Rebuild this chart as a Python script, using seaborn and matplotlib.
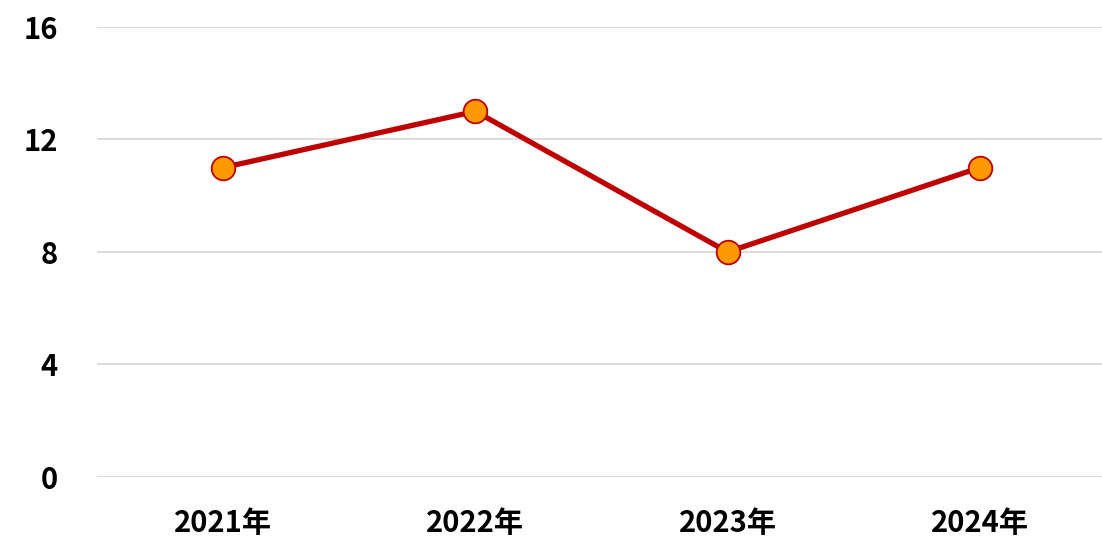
import matplotlib
matplotlib.use("Agg")
import matplotlib.pyplot as plt
import seaborn as sns
import pandas as pd

years = ["2021年", "2022年", "2023年", "2024年"]
values = [11, 13, 8, 11]
yticks = [0, 4, 8, 12, 16]

sns.set_theme(style="white")
plt.rcParams['font.family'] = ['Noto Sans CJK JP', 'DejaVu Sans']

df = pd.DataFrame({"year": years, "value": values})

fig = plt.figure(figsize=(11.02, 5.39), dpi=100)
ax = fig.add_axes([0.088, 0.115, 0.9156, 0.835])

sns.lineplot(data=df, x="year", y="value", ax=ax, color="#c00000", linewidth=3.8,
             marker="o", markersize=17, markerfacecolor="#ff9900",
             markeredgecolor="#c00000", markeredgewidth=1.3, sort=False)

ax.set_ylim(0, 16)
ax.set_xlim(-0.5, 3.5)
ax.set_yticks(yticks)
ax.set_yticklabels([str(t) for t in yticks])
ax.grid(axis="y", color="#d9d9d9", linewidth=1.3)
ax.set_axisbelow(True)
for s in ax.spines.values():
    s.set_visible(False)
ax.tick_params(axis="both", length=0, labelsize=21, labelcolor="black")
ax.tick_params(axis="y", pad=28)
ax.tick_params(axis="x", pad=22)
for lbl in ax.get_xticklabels() + ax.get_yticklabels():
    lbl.set_fontweight("bold")
ax.set_xlabel("")
ax.set_ylabel("")

fig.savefig("out.png", dpi=100)
